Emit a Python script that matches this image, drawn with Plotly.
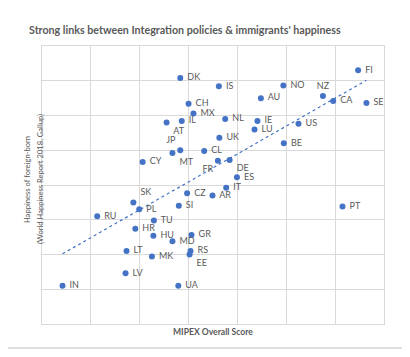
import numpy as np
import plotly.graph_objects as go

countries = ["DK","CH","MX","AT","IL","JP","MT","CL","CY","FR","IS","UK","NL","FI","NO","NZ","CA","SE",
             "AU","IE","LU","US","BE","DE","ES","IT","AR","PT","CZ","SI","SK","PL","RU","TU","HR","HU",
             "MD","GR","RS","EE","LT","MK","LV","IN","UA"]
mipex = [48.3,50.0,51.0,45.5,48.6,48.3,46.7,53.2,40.6,56.0,56.2,56.3,57.5,84.7,69.4,77.5,79.6,86.4,
         64.8,64.1,63.5,72.5,69.5,58.4,59.9,57.7,54.9,81.5,49.7,48.0,38.7,39.9,31.3,42.9,39.1,42.8,
         46.7,50.6,50.4,50.2,37.3,42.5,37.1,24.2,47.9]
happiness = [7.54,7.17,7.03,6.90,6.92,6.50,6.46,6.49,6.33,6.35,7.42,6.68,6.95,7.65,7.43,7.28,7.21,7.18,
             7.25,6.92,6.80,6.88,6.60,6.36,6.11,5.96,5.85,5.69,5.88,5.70,5.75,5.65,5.55,5.49,5.37,5.27,
             5.19,5.28,5.05,5.00,5.05,4.97,4.73,4.55,4.55]

label_pos = {"AT": "bottom right", "JP": "top left", "MT": "bottom right", "FR": "bottom left",
             "NZ": "top center", "DE": "bottom right", "SK": "top right", "EE": "bottom right"}
positions = [label_pos.get(c, "middle right") for c in countries]
texts = [(" " + c) if label_pos.get(c, "middle right").endswith("right") else c for c in countries]

x = np.array(mipex)
y = np.array(happiness)
slope, intercept = np.polyfit(x, y, 1)
tx = np.array([x.min(), x.max()])
ty = slope * tx + intercept

blue = "#4472C4"
grey = "#595959"
grid = "#d9d9d9"

fig = go.Figure()
fig.add_trace(go.Scatter(x=tx, y=ty, mode="lines",
                         line=dict(color=blue, width=1.2, dash="dot"),
                         hoverinfo="skip", showlegend=False))
fig.add_trace(go.Scatter(x=mipex, y=happiness, mode="markers+text",
                         text=texts, textposition=positions,
                         textfont=dict(family="Lato", size=9, color=grey),
                         marker=dict(color=blue, size=6),
                         showlegend=False))

fig.update_layout(
    width=410, height=357,
    margin=dict(l=34, r=34, t=38, b=41),
    paper_bgcolor="white", plot_bgcolor="white",
    xaxis=dict(range=[20, 90], dtick=10, showticklabels=False, showgrid=True, gridcolor=grid,
               gridwidth=1, zeroline=False, showline=True, linecolor=grid, mirror=True, ticks=""),
    yaxis=dict(range=[4, 8], dtick=0.5, showticklabels=False, showgrid=True, gridcolor=grid,
               gridwidth=1, zeroline=False, showline=True, linecolor=grid, mirror=True, ticks=""),
    shapes=[dict(type="rect", xref="paper", yref="paper", x0=-0.114, x1=1.056, y0=-0.086, y1=1.14,
                 line=dict(color="#e0e0e0", width=2), layer="below")],
    annotations=[
        dict(text="<b>Strong links between Integration policies & immigrants' happiness</b>",
             xref="paper", yref="paper", x=-0.044, y=1.061, xanchor="left", yanchor="middle",
             showarrow=False, font=dict(family="Lato", size=10.7, color=grey)),
        dict(text="<b>MIPEX Overall Score</b>", xref="paper", yref="paper", x=0.5, y=-0.027,
             xanchor="center", yanchor="middle", showarrow=False,
             font=dict(family="Lato", size=8.6, color=grey)),
        dict(text="Happiness of foreign-born",
             xref="paper", yref="paper", x=-0.042, y=0.52, xanchor="center", yanchor="middle",
             textangle=-90, showarrow=False, font=dict(family="Lato", size=7.6, color=grey)),
        dict(text="(World Happiness Report 2018, Gallup)",
             xref="paper", yref="paper", x=-0.004, y=0.52, xanchor="center", yanchor="middle",
             textangle=-90, showarrow=False, font=dict(family="Lato", size=7.6, color=grey)),
    ],
)

fig.write_html("out.html")
